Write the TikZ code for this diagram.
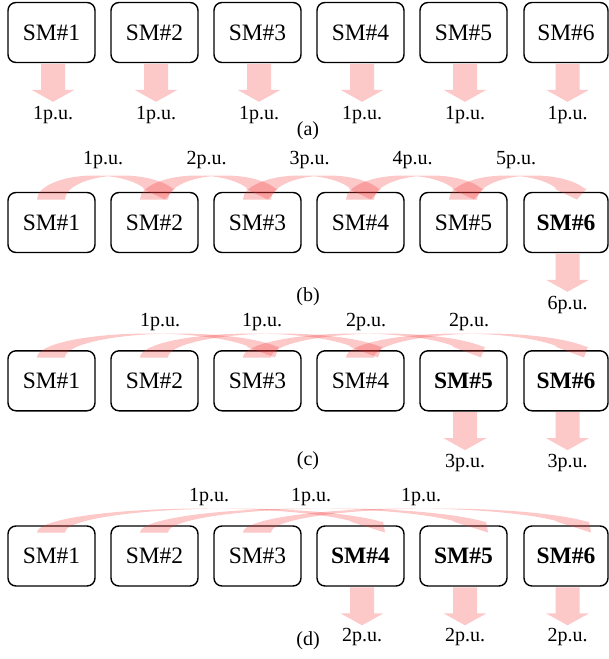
\documentclass[tikz,border=0pt]{standalone}
\usepackage{fontspec}
\setmainfont{Liberation Serif}
\definecolor{arrowred}{RGB}{245,50,50}
\newcommand{\carr}[3]{%
 \pgfmathsetmacro{\cL}{#1}%
 \pgfmathsetmacro{\cBt}{#3+7.5}%
 \pgfmathsetmacro{\cH}{24}%
 \pgfmathsetmacro{\cth}{28}%
 \pgfmathsetmacro{\cah}{11}%
 \pgfmathsetmacro{\cdh}{2.5}%
 \pgfmathsetmacro{\ck}{sqrt(1-(\cah/\cH)^2)}%
 \pgfmathsetmacro{\cwR}{(#2-\cth-\cdh)/(1+\ck)}%
 \pgfmathsetmacro{\cca}{\cL+\cwR}%
 \pgfmathsetmacro{\ccb}{\cca+\cth}%
 \pgfmathsetmacro{\cT}{\cBt-\cH}%
 \pgfmathsetmacro{\cyone}{\cBt-\cah}%
 \pgfmathsetmacro{\cdx}{\cwR*\ck}%
 \pgfmathsetmacro{\cxfive}{\cca+\cdx}%
 \pgfmathsetmacro{\cxfour}{\cxfive-\cdh}%
 \pgfmathsetmacro{\cxeight}{\ccb+\cdx+\cdh}%
 \pgfmathsetmacro{\cxsix}{\cL+2*\cwR+14}%
 \pgfmathsetmacro{\cafive}{asin(\cah/\cH)}%
 \pgfmathsetmacro{\caX}{acos(\cth/(2*\cwR))}%
 \fill[pinkfill] (\cL,\cBt)
   arc[start angle=180,end angle=90,x radius=\cwR pt,y radius=\cH pt]
   -- (\ccb,\cT)
   arc[start angle=90,end angle=\cafive,x radius=\cwR pt,y radius=\cH pt]
   -- (\cxeight,\cyone) -- (\cxsix,\cBt) -- (\cxfour,\cyone) -- (\cxfive,\cyone)
   arc[start angle=\cafive,end angle=\caX,x radius=\cwR pt,y radius=\cH pt]
   arc[start angle={180-\caX},end angle=180,x radius=\cwR pt,y radius=\cH pt]
   -- cycle;}
\newcommand{\downarr}[1]{%
 \fill[pinkfill] ([xshift=1.5pt,yshift=-0.6pt]#1.south) ++(-12,0) -- ++(24,0) -- ++(0,26)
   -- ++(9.5,0) -- ++(-21.5,12) -- ++(-21.5,-12) -- ++(9.5,0) -- cycle;}
\begin{document}
\begin{tikzpicture}[x=1pt,y=-1pt,
  smbox/.style={draw=black, line width=1.4pt, rounded corners=8pt, minimum width=87pt,
    minimum height=60pt, inner sep=0pt, fill=white, font=\fontsize{23.5}{26}\selectfont},
  lastbox/.style={smbox, minimum width=84pt},
  lbl/.style={inner sep=0pt, font=\fontsize{20}{22}\selectfont},
  pinkfill/.style={fill=arrowred, fill opacity=0.27, draw=none}]
\useasboundingbox (0,0) rectangle (609,659);
% row centres and column centres
\def\ya{32.5}\def\yb{222.5}\def\yc{380.8}\def\yd{556}
\def\xsix{566}
% boxes
\foreach \k in {1,...,5}{
  \pgfmathsetmacro{\cx}{51.5+103*(\k-1)}
  \node[smbox] (a\k) at (\cx,\ya) {SM\#\k};
}
\node[lastbox] (a6) at (\xsix,\ya) {SM\#6};
\foreach \k in {1,...,5}{
  \pgfmathsetmacro{\cx}{51.5+103*(\k-1)}
  \node[smbox] (b\k) at (\cx,\yb) {SM\#\k};
}
\node[lastbox] (b6) at (\xsix,\yb) {\textbf{SM\#6}};
\foreach \k in {1,...,4}{
  \pgfmathsetmacro{\cx}{51.5+103*(\k-1)}
  \node[smbox] (c\k) at (\cx,\yc) {SM\#\k};
}
\node[smbox] (c5) at (463.5,\yc) {\textbf{SM\#5}};
\node[lastbox] (c6) at (\xsix,\yc) {\textbf{SM\#6}};
\foreach \k in {1,...,3}{
  \pgfmathsetmacro{\cx}{51.5+103*(\k-1)}
  \node[smbox] (d\k) at (\cx,\yd) {SM\#\k};
}
\node[smbox] (d4) at (360.5,\yd) {\textbf{SM\#4}};
\node[smbox] (d5) at (463.5,\yd) {\textbf{SM\#5}};
\node[lastbox] (d6) at (\xsix,\yd) {\textbf{SM\#6}};
% (a) down arrows
\foreach \k in {1,...,6}{
  \downarr{a\k}
}
\foreach \k in {1,...,5}{
  \pgfmathsetmacro{\cx}{53+103*(\k-1)}
  \node[lbl] (la\k) at (\cx,115) {1p.u.};
}
\node[lbl] (la6) at (567.5,115) {1p.u.};
\node[lbl] (capa) at (308,131) {(a)};
% (b)
\foreach \k in {1,...,5}{
  \pgfmathsetmacro{\cx}{37+103*(\k-1)}
  \carr{\cx}{138}{192}
}
\node[lbl] (lb1) at (103,160) {1p.u.};
\node[lbl] (lb2) at (206.5,160) {2p.u.};
\node[lbl] (lb3) at (309.5,160) {3p.u.};
\node[lbl] (lb4) at (412.5,160) {4p.u.};
\node[lbl] (lb5) at (516,160) {5p.u.};
\downarr{b6}
\node[lbl] (lb6) at (567.5,305) {6p.u.};
\node[lbl] (capb) at (308,297) {(b)};
% (c)
\foreach \k in {1,...,4}{
  \pgfmathsetmacro{\cx}{37+103*(\k-1)}
  \carr{\cx}{242}{350}
}
\node[lbl] (lc1) at (160,322) {1p.u.};
\node[lbl] (lc2) at (262,322) {1p.u.};
\node[lbl] (lc3) at (366,322) {2p.u.};
\node[lbl] (lc4) at (469,322) {2p.u.};
\downarr{c5}
\downarr{c6}
\node[lbl] (lc5) at (465,463) {3p.u.};
\node[lbl] (lc6) at (567.5,463) {3p.u.};
\node[lbl] (capc) at (308,461) {(c)};
% (d)
\foreach \k in {1,...,3}{
  \pgfmathsetmacro{\cx}{37+103*(\k-1)}
  \carr{\cx}{346}{525}
}
\node[lbl] (ld1) at (209,497) {1p.u.};
\node[lbl] (ld2) at (311,497) {1p.u.};
\node[lbl] (ld3) at (421,497) {1p.u.};
\downarr{d4}
\downarr{d5}
\downarr{d6}
\node[lbl] (ld4) at (362,637) {2p.u.};
\node[lbl] (ld5) at (465,637) {2p.u.};
\node[lbl] (ld6) at (567.5,637) {2p.u.};
\node[lbl] (capd) at (308,641) {(d)};
\end{tikzpicture}
\end{document}
